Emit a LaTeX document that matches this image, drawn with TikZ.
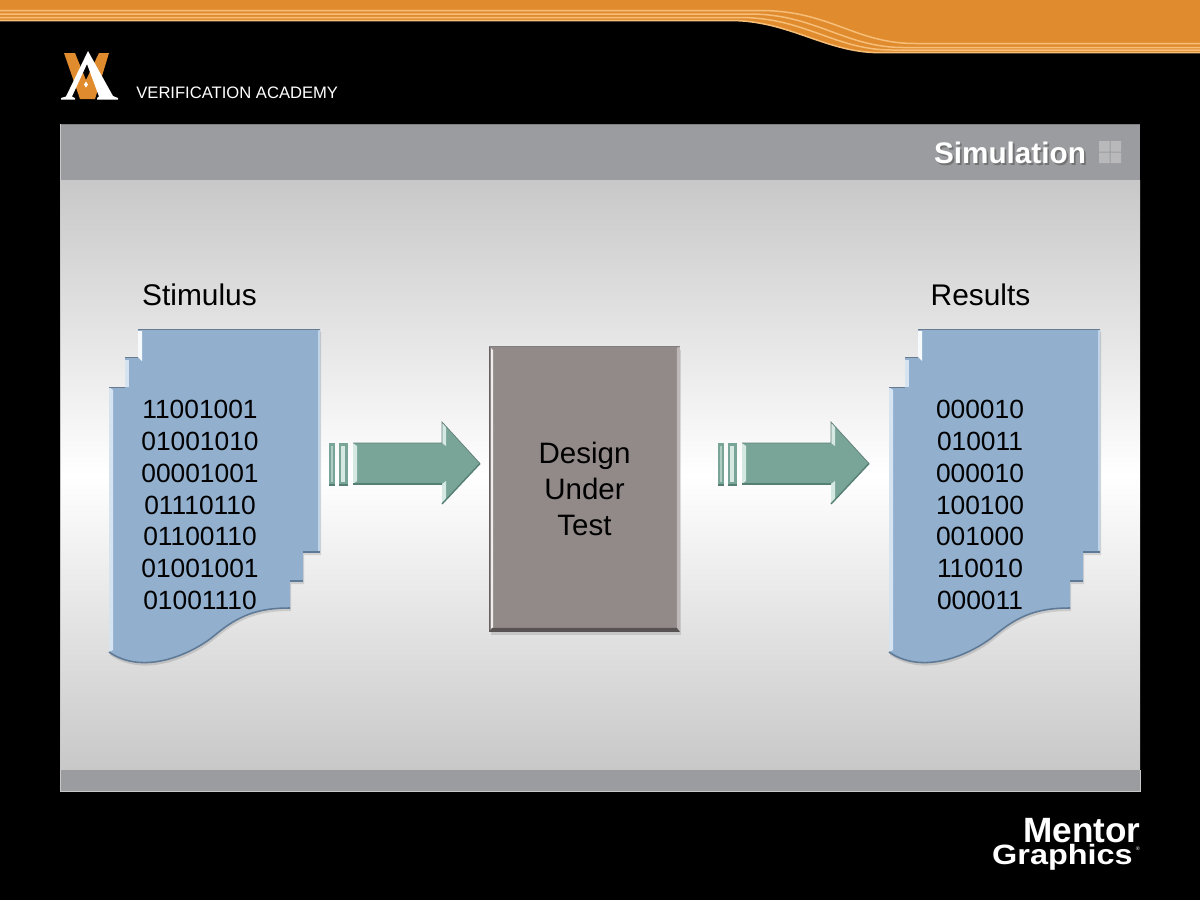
\documentclass[tikz,border=0pt]{standalone}
\usepackage{fontspec}
\setmainfont{Liberation Sans}
\usetikzlibrary{calc}
\definecolor{bandorange}{HTML}{E08C2E}
\definecolor{bandstripe}{HTML}{F6BE78}
\definecolor{panelgray}{HTML}{9B9CA0}
\definecolor{paneledge}{HTML}{C8C8C8}
\definecolor{docblue}{HTML}{92B0CE}
\definecolor{doclight}{HTML}{D6E4F1}
\definecolor{docdark}{HTML}{5F7A96}
\definecolor{arrowgreen}{HTML}{79A598}
\definecolor{arrowlight}{HTML}{D5E8E2}
\definecolor{arrowdark}{HTML}{557F73}
\definecolor{dutgray}{HTML}{928A89}
\tikzset{stripe/.style={bandstripe,line width=.85pt}}
\tikzset{l/.style={font=\fontsize{17}{20}\selectfont}}
\tikzset{bits/.style={align=center,font=\fontsize{15}{18.14}\selectfont}}
\tikzset{dutbox/.style={fill=dutgray,minimum width=3.8cm,minimum height=5.7cm,align=center,font=\fontsize{16.8}{20.4}\selectfont}}
\tikzset{title/.style={font=\fontsize{16.9}{20}\selectfont\bfseries}}
\tikzset{brand/.style={white,inner sep=0pt,anchor=base east}}
\newcommand{\docpath}{(138,329)--(320,329)--(320,552)--(303,552)--(303,581)--(290,581)--(290,608)
  .. controls (260,608) and (240,614) .. (215,635) .. controls (195,652) and (145,677) .. (109,652)
  --(109,387)--(125,387)--(125,357)--(138,357)--cycle}
\newcommand{\docshape}[1]{
  \begin{scope}[shift={(#1,0)}]
    \fill[black,opacity=.12,shift={(1,3)}] \docpath;
    \fill[docblue] \docpath;
    \fill[doclight] (109,387)--(113,390)--(113,650)--(109,652)--cycle;
    \fill[doclight] (125,360)--(129,360)--(129,387)--(125,387)--cycle;
    \fill[white!80!doclight] (138,331)--(142,331)--(142,361)--(138,357)--cycle;
    \fill[doclight!70!docblue] (320,329)--(320,552)--(318,550)--(318,331)--cycle;
    \draw[docdark!70!gray,line width=.5pt] (138,329)--(320,329);
    \draw[docdark!70!gray,line width=.5pt] (109,387)--(125,387) (125,357)--(138,357);
    \draw[docdark,line width=.9pt] (320,552)--(303,552) (303,581)--(290,581);
    \draw[docdark,line width=.9pt] (290,608) .. controls (260,608) and (240,614) .. (215,635)
      .. controls (195,652) and (145,677) .. (109,652);
  \end{scope}
}
\newcommand{\flowarrow}[1]{
  \begin{scope}[shift={(#1,0)}]
    \fill[arrowgreen] (329,443) rectangle (335,485);
    \fill[arrowlight!60!arrowgreen] (331,446) rectangle (333,482);
    \fill[arrowgreen] (339,443) rectangle (348,485);
    \fill[arrowlight] (341,446) rectangle (345,482);
    \fill[arrowgreen] (353,443)--(442,443)--(442,422)--(480,463.5)--(442,504)--(442,484)--(353,484)--cycle;
    \fill[arrowlight] (353,443)--(357,446)--(357,481)--(353,484)--cycle;
    \fill[arrowlight] (442,422)--(446,427)--(446,446)--(442,443)--cycle;
    \fill[arrowlight] (442,504)--(446,499)--(446,481)--(442,484)--cycle;
    \draw[arrowdark!70!gray,line width=.4pt] (353,443)--(442,443)--(442,422)--(480,463.5);
    \draw[arrowdark,line width=.8pt] (329,485)--(335,485) (339,485)--(348,485) (353,484)--(442,484);
    \draw[arrowdark,line width=.8pt] (442,504)--(480,463.5);
  \end{scope}
}
\begin{document}
\begin{tikzpicture}[x=.02cm,y=-.02cm]
  \useasboundingbox (0,0) rectangle (1200,900);
  \fill[black] (0,0) rectangle (1200,900);
  % top band
  \fill[bandorange] (0,0)--(1200,0)--(1200,52.7)--(880,52.7) .. controls (825,52.7) and (790,20.5) .. (730,20.5)--(0,20.5)--cycle;
  \draw[stripe] (0,10.5)--(760,10.5) .. controls (830,10.5) and (855,43.5) .. (915,43.5)--(1200,43.5);
  \draw[stripe] (0,14)--(750,14) .. controls (815,14) and (845,47.5) .. (903,47.5)--(1200,47.5);
  \draw[stripe] (0,17.5)--(740,17.5) .. controls (805,17.5) and (835,50) .. (892,50)--(1200,50);
  \draw[stripe] (0,20.5)--(730,20.5) .. controls (790,20.5) and (825,52.7) .. (880,52.7)--(1200,52.7);
  % logo
  \fill[bandorange] (64,53)--(75,53)--(86,80)--(99,53)--(109,53)--(95,99)--(80,99)--cycle;
  \fill[white] (88,51)--(113,96)--(118,98)--(118,99.5)--(97,99.5)--(97,98)--(99,96.5)--(87,64)--(72,96.5)--(75,98)--(75,99.5)--(61,99.5)--(61,98)--(66,96.5)--cycle;
  \fill[white] (86,81.5)--(88,84.5)--(86,87.5)--(84,84.5)--cycle;
  \node[white,inner sep=0pt,anchor=base west,font=\fontsize{9.45}{10}\selectfont] (academy) at (136,98) {VERIFICATION ACADEMY};
  % panel
  \shade[top color=paneledge,bottom color=paneledge,middle color=white] (60,180) rectangle (1140,770);
  \fill[panelgray] (60,124) rectangle (1140,180);
  \fill[panelgray] (60,770) rectangle (1140,791);
  \draw[gray,line width=.5pt] (60,124)--(1140,124);
  \draw[paneledge,line width=.5pt] (60,124)--(60,791)--(1140,791)--(1140,770);
  \node[title,black!55] at (1011.8,154.8) {Simulation};
  \node[title,white] (simtitle) at (1010,153) {Simulation};
  \fill[white,opacity=.3] (1099,141) rectangle (1109.5,151.5) (1110.5,141) rectangle (1121,151.5)
    (1099,152.5) rectangle (1109.5,163) (1110.5,152.5) rectangle (1121,163);
  % documents
  \docshape{0}
  \docshape{780}
  \node[l] (stimlabel) at (199.5,295) {Stimulus};
  \node[l] (reslabel) at (980.5,295) {Results};
  \node[bits] (stimbits) at (200,505) {11001001\\01001010\\00001001\\01110110\\01100110\\01001001\\01001110};
  \node[bits] (resbits) at (980,505) {000010\\010011\\000010\\100100\\001000\\110010\\000011};
  % block in the middle
  \fill[black,opacity=.12] (491,350) rectangle (681,635);
  \node[dutbox] (dut) at (584.5,489) {Design\\Under\\Test};
  \draw[dutgray!70!black,line width=.7pt] (dut.north west)--(dut.south west);
  \fill[white!85!dutgray] ($(dut.north west)+(2,2)$)--++(2,2)--($(dut.south west)+(4,-4)$)--++(-2,1)--cycle;
  \fill[white!40!dutgray] (dut.north east)--++(-3,2)--($(dut.south east)+(-3,-3)$)--(dut.south east)--cycle;
  \fill[dutgray!60!black] (dut.south west)--++(3,-4)--($(dut.south east)+(-3,-4)$)--(dut.south east)--cycle;
  \draw[gray,line width=.6pt] (dut.north west)--(dut.north east);
  % arrows
  \flowarrow{0}
  \flowarrow{389}
  % brand
  \node[brand,font=\fontsize{20}{20}\selectfont\bfseries] (mentor) at (1141,842) {Mentor};
  \node[brand,font=\fontsize{15.9}{16}\selectfont\bfseries] (graphics) at (1133,864) {\scalebox{1.16}[1]{Graphics}};
  \node[brand,font=\fontsize{3}{3}\selectfont] (regmark) at (1140,850) {®};
\end{tikzpicture}
\end{document}
